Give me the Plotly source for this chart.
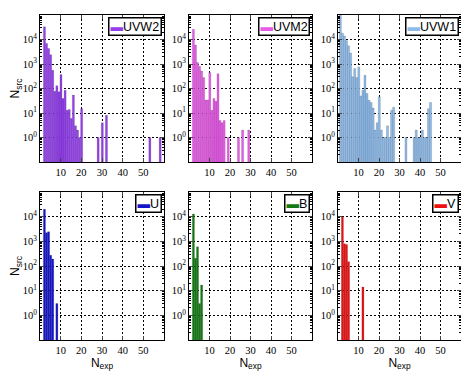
import plotly.graph_objects as go
from plotly.subplots import make_subplots

# the page puts the figure 8px in from the top-left corner of the window
PAGE_OFF = 8
W, H = 469 - PAGE_OFF, 377 - PAGE_OFF

# number of exposures per source (bin) and number of sources in it
uvw2_n = [2, 3, 4, 5, 6, 7, 8, 9, 10, 11, 12, 13, 14, 15, 16, 17, 18, 19, 20, 28, 30, 32, 53, 58]
uvw2_counts = [33000, 6900, 4300, 2400, 560, 78, 130, 73, 370, 39, 85, 13, 14, 6, 54, 3, 2, 1, 15,
               1, 4, 8, 1, 1]

uvm2_n = [2, 3, 4, 5, 6, 7, 8, 9, 10, 11, 12, 13, 14, 15, 16, 17, 19, 24, 26, 29]
uvm2_counts = [26000, 5900, 1150, 800, 520, 280, 34, 34, 450, 13, 39, 30, 400, 5, 4, 5, 1, 1, 2, 2]

uvw1_n = [1, 2, 3, 4, 5, 6, 7, 8, 9, 10, 11, 12, 13, 14, 15, 16, 17, 18, 19, 20, 21, 22, 23, 24,
          25, 26, 27, 33, 37, 38, 39, 40, 41, 42, 43, 44, 45]
uvw1_counts = [150000, 18000, 14000, 9000, 5500, 2800, 300, 660, 280, 760, 50, 85, 350, 63, 33, 27,
               16, 2, 4, 46, 2, 1, 1, 3, 1, 13, 17, 1, 1, 2, 1, 1, 2, 1, 1, 15, 27]

u_n = [2, 3, 4, 5, 6, 8]
u_counts = [20000, 2250, 2450, 270, 190, 3]

b_n = [2, 3, 4, 5, 6]
b_counts = [12900, 205, 600, 3, 17]

v_n = [2, 3, 4, 5, 12]
v_counts = [10000, 800, 750, 150, 14]

x_ticks = [10, 20, 30, 40, 50]
y_ticks = [1, 10, 100, 1000, 10000]
y_ticktext = ["10<sup>0</sup>", "10<sup>1</sup>", "10<sup>2</sup>", "10<sup>3</sup>", "10<sup>4</sup>"]

panels = [
    ("UVW2", uvw2_n, uvw2_counts, "#9440ec"),
    ("UVM2", uvm2_n, uvm2_counts, "#e85be8"),
    ("UVW1", uvw1_n, uvw1_counts, "#8ebbea"),
    ("U", u_n, u_counts, "#1515cc"),
    ("B", b_n, b_counts, "#127a12"),
    ("V", v_n, v_counts, "#ee1010"),
]

# axes boxes in window pixels
col_px = [(40, 164), (189, 312), (338, 461)]
row_px = [(15, 162), (192, 340)]


def fx(px):
    return (px - PAGE_OFF) / W


def fy(px):
    return 1 - (px - PAGE_OFF) / H


minor_vals = [m * 10 ** e for e in range(-1, 5) for m in range(2, 10)]

fig = make_subplots(rows=2, cols=3)

for i, (name, n, counts, color) in enumerate(panels):
    r, c = divmod(i, 3)
    fig.add_trace(
        go.Bar(
            x=n, y=counts, name=name, width=1, offset=-0.35,
            marker=dict(color=color, line=dict(color="rgba(0,0,0,0.28)", width=0.5)),
            showlegend=False,
        ),
        row=r + 1, col=c + 1,
    )
    x0, x1 = col_px[c]
    y0, y1 = row_px[r]
    # matplotlib-style legend box in the upper right corner
    fig.add_annotation(
        x=fx(x1 - 2), y=fy(y0 + 2), xref="paper", yref="paper",
        xanchor="right", yanchor="top", showarrow=False,
        text=f"<span style='color:{color}'>▬</span>{name}",
        font=dict(family="Liberation Sans", size=12.5, color="black"),
        bgcolor="white", bordercolor="black", borderwidth=1.5, borderpad=1,
    )
    fig.update_xaxes(
        domain=[fx(x0), fx(x1)], range=[0, 60], automargin=False,
        tickvals=x_ticks, ticks="inside", ticklen=4, mirror="allticks",
        showline=True, linecolor="black", linewidth=1.2,
        showgrid=True, gridcolor="black", gridwidth=0.8, griddash="1.5px,2.5px",
        zeroline=False,
        tickfont=dict(family="Liberation Serif", size=10.5, color="black"),
        title=dict(text="N<sub>exp</sub>" if r == 1 else "",
                   font=dict(family="Liberation Sans", size=12, color="black"), standoff=2),
        row=r + 1, col=c + 1,
    )
    fig.update_yaxes(
        domain=[fy(y1), fy(y0)], type="log", range=[-1, 5], automargin=False,
        tickvals=y_ticks, ticktext=y_ticktext, ticks="inside", ticklen=4, mirror="allticks",
        minor=dict(tickvals=minor_vals, ticks="inside", ticklen=2, tickcolor="black", showgrid=False),
        showline=True, linecolor="black", linewidth=1.2,
        showgrid=True, gridcolor="black", gridwidth=0.8, griddash="1.5px,2.5px",
        zeroline=False,
        tickfont=dict(family="Liberation Serif", size=10.5, color="black"),
        title=dict(text="N<sub>src</sub>" if c == 0 else "",
                   font=dict(family="Liberation Sans", size=12, color="black"), standoff=10),
        row=r + 1, col=c + 1,
    )

fig.update_layout(
    width=W, height=H,
    margin=dict(l=0, r=0, t=0, b=0),
    plot_bgcolor="white", paper_bgcolor="white",
    barmode="overlay",
)

fig.write_html("out.html")
